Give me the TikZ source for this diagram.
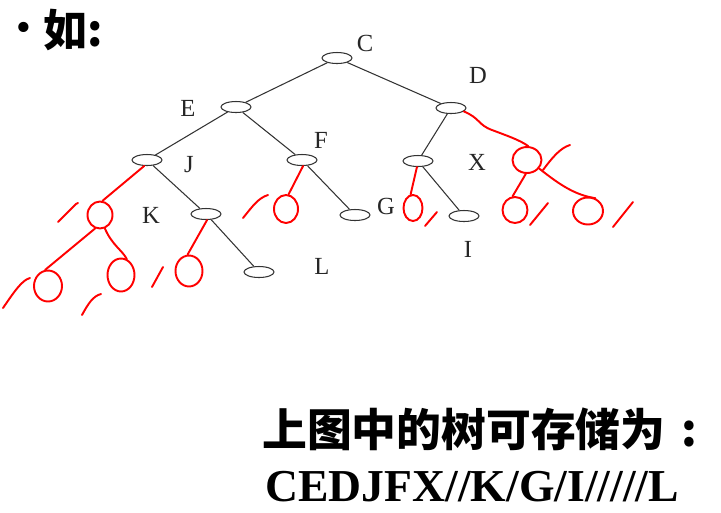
\documentclass[tikz,border=0pt]{standalone}
\usepackage{fontspec}
\setmainfont{Liberation Serif}
\newfontfamily\cjk{Noto Sans CJK SC}
\newfontfamily\bulfont{DejaVu Sans}
\usetikzlibrary{shapes.geometric}
\tikzset{
  tn/.style={ellipse,draw=black!80,line width=0.6pt,minimum width=0.6cm,minimum height=0.22cm,inner sep=0pt},
  tl/.style={font=\fontsize{14}{14}\selectfont,text=black!85},
  te/.style={draw=black!80,line width=0.6pt},
  rc/.style={ellipse,draw=red,line width=1.1pt,inner sep=0pt},
  rl/.style={draw=red,line width=1.1pt,line cap=round,line join=round},
}
\begin{document}
\begin{tikzpicture}[x=0.02cm,y=-0.02cm]
\useasboundingbox (0,0) rectangle (721,512);
% title
\node[font=\fontsize{20}{20}\selectfont\bulfont] (bul) at (24,31) {•};
\node[anchor=west,inner sep=0pt,font=\fontsize{25}{25}\selectfont\cjk\bfseries] (ru) at (43,30) {如:};
% tree nodes
\node[tn] (C) at (337,58) {};
\node[tn] (D) at (451,108) {};
\node[tn] (E) at (236,107) {};
\node[tn] (J) at (147,160) {};
\node[tn] (F) at (302,160) {};
\node[tn] (X) at (418,161) {};
\node[tn] (K) at (206,214) {};
\node[tn] (G) at (355,215) {};
\node[tn] (I) at (464,216) {};
\node[tn] (L) at (259,272) {};
% labels
\node[tl] (lC) at (365,43) {C};
\node[tl] (lD) at (478,75) {D};
\node[tl] (lE) at (188,108) {E};
\node[tl] (lJ) at (189,165) {J};
\node[tl] (lF) at (321,140) {F};
\node[tl] (lX) at (477,162) {X};
\node[tl] (lK) at (151,215) {K};
\node[tl] (lG) at (386,206) {G};
\node[tl] (lI) at (468,249) {I};
\node[tl] (lL) at (322,266) {L};
% tree edges
\draw[te] (C) -- (E);
\draw[te] (C) -- (D);
\draw[te] (E) -- (J);
\draw[te] (E) -- (F);
\draw[te] (D) -- (X);
\draw[te] (J) -- (K);
\draw[te] (K) -- (L);
\draw[te] (F) -- (G);
\draw[te] (X) -- (I);
% red null circles
\node[rc,minimum width=25pt*0.569,minimum height=27pt*0.569] (ra) at (100,215) {};
\node[rc,minimum width=28pt*0.569,minimum height=31pt*0.569] (rb) at (48,286) {};
\node[rc,minimum width=27pt*0.569,minimum height=33pt*0.569] (rcc) at (121,275) {};
\node[rc,minimum width=27pt*0.569,minimum height=31pt*0.569] (rd) at (189,271) {};
\node[rc,minimum width=24pt*0.569,minimum height=28pt*0.569] (re) at (286,209) {};
\node[rc,minimum width=19pt*0.569,minimum height=26pt*0.569] (rf) at (413,208) {};
\node[rc,minimum width=29pt*0.569,minimum height=26pt*0.569] (rg) at (527,160) {};
\node[rc,minimum width=25pt*0.569,minimum height=26pt*0.569] (rh) at (515,210) {};
\node[rc,minimum width=30pt*0.569,minimum height=27pt*0.569] (ri) at (588,211) {};
% red links
\draw[rl] (J.-115) -- (ra.80);
\draw[rl] (ra.-110) -- (rb.100);
\draw[rl] (ra.-70) .. controls (112,245) and (122,250) .. (rcc.70);
\draw[rl] (K.-80) -- (rd.95);
\draw[rl] (F.-80) -- (re.80);
\draw[rl] (X.-100) -- (rf.100);
\draw[rl] (D.-15) .. controls (480,118) and (478,125) .. (492,130) .. controls (505,135) and (520,140) .. (rg.85);
\draw[rl] (rg.-95) -- (rh.100);
\draw[rl] (rg.-35) .. controls (560,185) and (575,195) .. (ri.60);
% slashes
\draw[rl] (58,222) -- (76,204) -- (78,203);
\draw[rl] (3,308) .. controls (14,292) and (22,280) .. (30,278);
\draw[rl] (82,315) .. controls (88,304) and (93,296) .. (101,294);
\draw[rl] (152,287) -- (163,267);
\draw[rl] (243,218) .. controls (252,207) and (258,198) .. (268,195);
\draw[rl] (425,226) -- (437,212);
\draw[rl] (543,170) .. controls (552,158) and (560,148) .. (570,145);
\draw[rl] (530,225) -- (548,203);
\draw[rl] (613,227) -- (633,202);
% bottom text
\node[anchor=west,inner sep=0pt,font=\fontsize{25.5}{25.5}\selectfont\cjk\bfseries] (t1) at (262,429) {上图中的树可存储为\hspace{9pt}:};
\node[anchor=west,inner sep=0pt,font=\fontsize{26}{26}\selectfont\bfseries] (t2) at (265,487) {CEDJFX//K/G/I/////L};
\end{tikzpicture}
\end{document}
